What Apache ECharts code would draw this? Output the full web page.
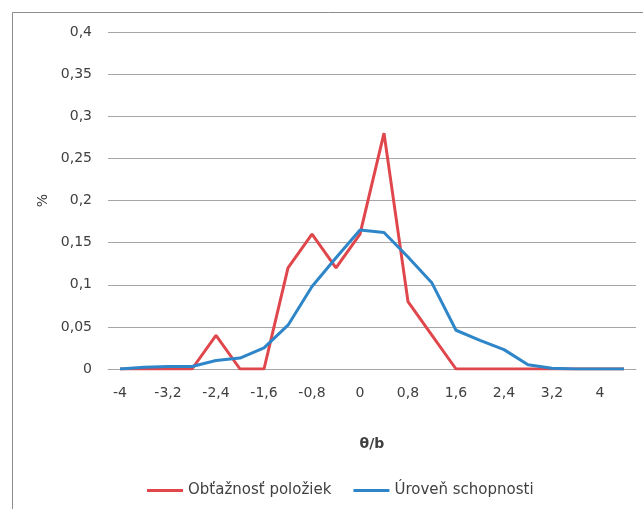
<!DOCTYPE html>
<html>
<head>
<meta charset="utf-8">
<script src="https://cdn.jsdelivr.net/npm/echarts@6/dist/echarts.min.js"></script>
<style>
html,body{margin:0;padding:0;background:#fff;}
#c{width:643px;height:509px;}
</style>
</head>
<body>
<div id="c"></div>
<script>
const categories = [-4, -3.6, -3.2, -2.8, -2.4, -2, -1.6, -1.2, -0.8, -0.4, 0, 0.4, 0.8, 1.2, 1.6, 2, 2.4, 2.8, 3.2, 3.6, 4, 4.4];
const difficulty = [0, 0, 0, 0, 0.04, 0, 0, 0.12, 0.16, 0.12, 0.16, 0.28, 0.08, 0.04, 0, 0, 0, 0, 0, 0, 0, 0];
const ability = [0, 0.002, 0.003, 0.003, 0.01, 0.013, 0.025, 0.052, 0.098, 0.132, 0.165, 0.162, 0.133, 0.102, 0.046, 0.034, 0.023, 0.005, 0.001, 0, 0, 0];
const seriesNames = ['Obťažnosť položiek', 'Úroveň schopnosti'];
const yTicks = { min: 0, max: 0.4, interval: 0.05 };

const fmt = v => String(+(+v).toFixed(2)).replace('.', ',');
const font = 'DejaVu Sans';
const txt = '#404040';
const chart = echarts.init(document.getElementById('c'));
chart.setOption({
  animation: false,
  textStyle: { fontFamily: font },
  graphic: [{
    type: 'rect', shape: { x: 12.5, y: 12.5, width: 700, height: 600 },
    style: { fill: 'none', stroke: '#8c8c8c', lineWidth: 1 }, silent: true
  }],
  grid: { left: 108, right: 7, top: 32, bottom: 140 },
  legend: {
    bottom: 6, left: 142, itemWidth: 36, itemHeight: 3, itemGap: 22,
    icon: 'rect',
    textStyle: { fontFamily: font, fontSize: 15, color: txt },
    data: seriesNames
  },
  xAxis: {
    type: 'category', data: categories.map(fmt), boundaryGap: true,
    name: 'θ/b', nameLocation: 'middle', nameGap: 68,
    nameTextStyle: { fontFamily: font, fontSize: 14, fontWeight: 'bold', color: txt },
    axisLine: { lineStyle: { color: '#a6a6a6' } },
    axisTick: { show: false },
    axisLabel: { interval: 1, margin: 17, fontSize: 14, color: txt, fontFamily: font }
  },
  yAxis: {
    type: 'value', min: yTicks.min, max: yTicks.max, interval: yTicks.interval,
    name: '%', nameLocation: 'middle', nameGap: 54, nameRotate: 90,
    nameTextStyle: { fontFamily: font, fontSize: 14, color: txt },
    axisLine: { show: false }, axisTick: { show: false },
    axisLabel: { margin: 16, fontSize: 14, color: txt, fontFamily: font, formatter: fmt },
    splitLine: { lineStyle: { color: '#a6a6a6', width: 1 } }
  },
  series: [
    { name: seriesNames[0], type: 'line', data: difficulty, showSymbol: false, symbol: 'none',
      lineStyle: { color: '#e0474c', width: 3 }, itemStyle: { color: '#e0474c' } },
    { name: seriesNames[1], type: 'line', data: ability, showSymbol: false, symbol: 'none',
      lineStyle: { color: '#2e86c9', width: 3 }, itemStyle: { color: '#2e86c9' } }
  ]
});
</script>
</body>
</html>
